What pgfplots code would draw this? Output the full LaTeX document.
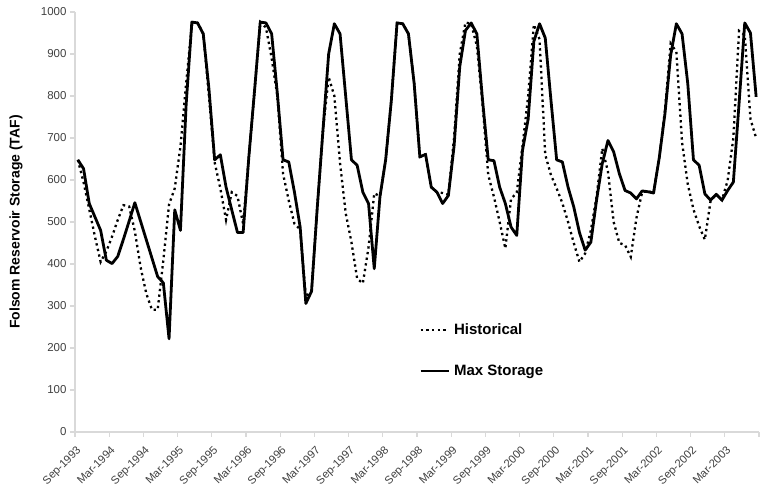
\documentclass[border=0pt]{standalone}
\usepackage{fontspec}
\setmainfont{Liberation Sans}
\usepackage{pgfplots}
\pgfplotsset{compat=1.18}
\usepackage{pgfplotstable}

\pgfplotstableread{
m v
0 648
1 627
2 544
3 512
4 480
5 409
6 401
7 418
8 459
9 502
10 546
11 502
12 458
13 414
14 370
15 355
16 222
17 529
18 480
19 780
20 976
21 974
22 948
23 817
24 648
25 660
26 583
27 529
28 475
29 475
30 655
31 813
32 976
33 974
34 948
35 806
36 648
37 643
38 571
39 488
40 306
41 335
42 534
43 718
44 900
45 972
46 948
47 798
48 648
49 635
50 571
51 544
52 389
53 560
54 648
55 790
56 974
57 972
58 948
59 830
60 655
61 661
62 583
63 571
64 544
65 563
66 680
67 870
68 956
69 974
70 948
71 790
72 648
73 646
74 583
75 544
76 488
77 468
78 670
79 745
80 930
81 972
82 938
83 790
84 648
85 643
86 583
87 536
88 475
89 433
90 452
91 552
92 639
93 694
94 667
95 615
96 575
97 569
98 555
99 574
100 572
101 569
102 653
103 758
104 897
105 972
106 948
107 830
108 648
109 635
110 567
111 552
112 566
113 552
114 575
115 595
116 782
117 974
118 950
119 798
}\maxtable

\pgfplotstableread{
m v
0 648
1 595
2 530
3 465
4 405
5 430
6 465
7 505
8 540
9 537
10 478
11 393
12 330
13 291
14 291
15 409
16 542
17 580
18 680
19 830
20 970
21 974
22 948
23 800
24 642
25 580
26 505
27 571
28 562
29 495
30 655
31 813
32 976
33 963
34 890
35 800
36 615
37 551
38 496
39 482
40 321
41 337
42 534
43 718
44 845
45 800
46 640
47 520
48 452
49 365
50 354
51 440
52 568
53 562
54 648
55 790
56 974
57 972
58 948
59 830
60 655
61 661
62 583
63 571
64 569
65 565
66 700
67 900
68 975
69 972
70 920
71 780
72 612
73 560
74 500
75 437
76 555
77 570
78 680
79 800
80 970
81 935
82 660
83 612
84 580
85 545
86 500
87 450
88 405
89 425
90 480
91 560
92 675
93 620
94 500
95 450
96 445
97 417
98 510
99 571
100 574
101 569
102 653
103 766
104 925
105 905
106 690
107 590
108 530
109 490
110 458
111 550
112 566
113 552
114 599
115 700
116 955
117 945
118 745
119 700
}\histtable

\definecolor{axgray}{HTML}{D9D9D9}
\definecolor{lblgray}{HTML}{404040}

\begin{document}
\begin{tikzpicture}
\begin{axis}[
  scale only axis,
  width=684pt, height=420pt,
  xmin=-0.5, xmax=119.5,
  ymin=0, ymax=1000,
  axis x line*=bottom, axis y line*=left,
  axis line style={draw=axgray, line width=1.3pt},
  tick align=outside,
  tick style={draw=axgray, line width=1.3pt},
  major tick length=5pt,
  minor tick length=5pt,
  ytick={0,100,...,1000},
  xtick={0,6,...,114},
  xticklabels={Sep-1993,Mar-1994,Sep-1994,Mar-1995,Sep-1995,Mar-1996,Sep-1996,Mar-1997,Sep-1997,Mar-1998,Sep-1998,Mar-1999,Sep-1999,Mar-2000,Sep-2000,Mar-2001,Sep-2001,Mar-2002,Sep-2002,Mar-2003},
  minor xtick={-0.5,5.5,...,119.5},
  major x tick style={draw=none},
  /pgf/number format/assume math mode=true,
  /pgf/number format/1000 sep={},
  yticklabel style={font=\fontsize{11.5}{13}\selectfont, text=lblgray},
  xticklabel style={font=\fontsize{11.2}{13}\selectfont, text=lblgray, xshift=-2pt, yshift=-8pt, rotate=45, anchor=north east, inner sep=0pt},
  ylabel={Folsom Reservoir Storage (TAF)},
  ylabel style={at={(axis description cs:-0.0863,0.5)}, anchor=center, font=\bfseries\fontsize{14}{16}\selectfont},
  legend image code/.code={\draw[#1] (0pt,0pt) -- (28pt,0pt);},
  legend cell align=left,
  legend style={at={(rel axis cs:0.503,0.194)}, anchor=west, draw=none, fill=none,
    inner sep=0pt, row sep=27pt, column sep=4pt,
    font=\bfseries\fontsize{15}{18}\selectfont,
    nodes={inner sep=0pt, text height=11pt, text depth=3pt}},
]
\addplot[black, line width=2.3pt, dash pattern=on 2.3pt off 3.4pt] table[x=m, y=v] {\histtable};
\addlegendentry{Historical}
\addplot[black, line width=2.8pt, line join=round] table[x=m, y=v] {\maxtable};
\addlegendentry{Max Storage}
\coordinate (o) at (axis cs:-0.5,0);
\end{axis}
\pgfresetboundingbox
\path[use as bounding box] ([shift={(-75pt,-54pt)}]o) rectangle ++(762pt,486pt);
\end{tikzpicture}
\end{document}
